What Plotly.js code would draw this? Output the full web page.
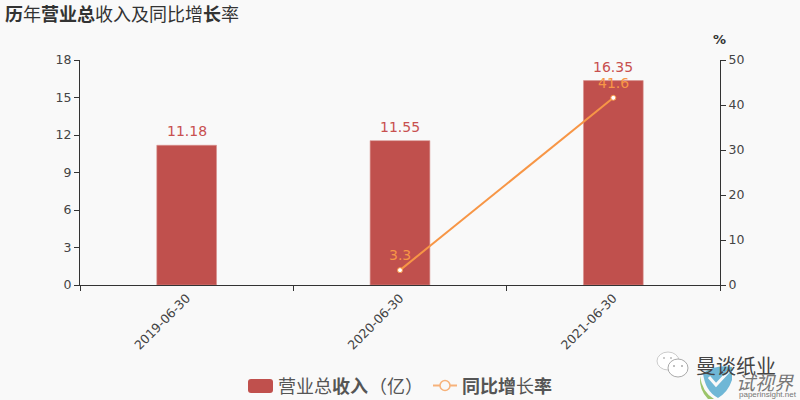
<!DOCTYPE html>
<html><head><meta charset="utf-8">
<script src="https://cdn.plot.ly/plotly-3.0.1.min.js"></script>
<style>html,body{margin:0;padding:0;background:#f9f9f9}#c{width:800px;height:400px}</style>
</head><body><div id="c"></div>
<script>
const categories = ['2019-06-30','2020-06-30','2021-06-30'];
const revenue = [11.18,11.55,16.35];
const growth = [null,3.3,41.6];
const revenueLabels = ['11.18','11.55','16.35'];
const growthLabels = ['','3.3','41.6'];
const revenueName = '营业总收入（亿）';
const growthName = '同比增长率';
const BASE = '"DejaVu Sans","Noto Sans CJK SC",sans-serif';
const CJK = '"Noto Sans CJK SC","DejaVu Sans",sans-serif';
const RED = '#c0504d', ORANGE = '#f79646';

const pxX = x => (x-80)/640, pxY = y => (285-y)/225;
const paperText = (x,y,text,size,color,extra={}) => Object.assign({
  xref:'paper',yref:'paper',x:pxX(x),y:pxY(y),xanchor:'left',yanchor:'middle',
  text,showarrow:false,font:{family:CJK,size,color}},extra);
const box = (x0,y0,x1,y1,o) => Object.assign({type:'rect',xref:'paper',yref:'paper',
  x0:pxX(x0),x1:pxX(x1),y0:pxY(y0),y1:pxY(y1)},o);
const circ = (x0,y0,x1,y1,o) => Object.assign(box(x0,y0,x1,y1,o),{type:'circle'});
const pathOf = (pts,o) => Object.assign({type:'path',xref:'paper',yref:'paper',
  path:pts.map(p=>typeof p==='string'?p:`${pxX(p[0])} ${pxY(p[1])}`).join(' ')},o);

const barLabels = categories.map((c,i)=>({x:c,y:revenue[i],xref:'x',yref:'y',text:revenueLabels[i],
  showarrow:false,yanchor:'bottom',yshift:4,font:{family:BASE,size:14,color:'#c8504f'}}));
const lineLabels = categories.map((c,i)=>growth[i]==null?null:({x:c,y:growth[i],xref:'x',yref:'y2',text:growthLabels[i],
  showarrow:false,yanchor:'bottom',yshift:5,font:{family:BASE,size:14,color:ORANGE}})).filter(Boolean);

const traces = [
 {type:'bar',x:categories,y:revenue,name:revenueName,width:0.28,
  marker:{color:RED,line:{color:'#d9928f',width:0.6}},hoverinfo:'x+y'},
 {type:'scatter',mode:'lines+markers',x:categories,y:growth,yaxis:'y2',name:growthName,
  line:{color:ORANGE,width:2},
  marker:{size:5,color:'#ffffff',line:{color:ORANGE,width:1}},cliponaxis:false}
];
const axisCommon = {showgrid:false,zeroline:false,showline:true,linecolor:'#333',linewidth:1,
  ticks:'outside',ticklen:5,tickcolor:'#333',tickwidth:1,
  tickfont:{family:BASE,size:12.5,color:'#444'}};
const layout = {
 width:800,height:400,paper_bgcolor:'#f9f9f9',plot_bgcolor:'#f9f9f9',
 margin:{l:80,r:80,t:60,b:115,pad:0},showlegend:false,
 xaxis:Object.assign({},axisCommon,{type:'category',range:[-0.5,2.5],tickson:'boundaries',tickangle:-45}),
 yaxis:Object.assign({},axisCommon,{range:[0,18],dtick:3,tick0:0}),
 yaxis2:Object.assign({},axisCommon,{overlaying:'y',side:'right',range:[0,50],dtick:10,tick0:0}),
 annotations:[...barLabels,...lineLabels,
  paperText(3,13,'<b>历</b>年<b>营业总</b>收入及同比增<b>长</b>率',18,'#333'),
  paperText(711,39,'<b>%</b>',13,'#333',{font:{family:BASE,size:13,color:'#333'}}),
  paperText(276,385,'营业总<b>收入</b>',18,'#555'),
  paperText(367,385,'（亿）',18,'#555'),
  paperText(460,385,'<b>同比增</b>长<b>率</b>',18,'#555'),
  paperText(694,365,'曼谈纸业',20,'#444'),
  paperText(734,381,'<i>试视界</i>',19,'#777'),
  paperText(737,394,'paperinsight.net',8,'#777',{font:{family:'"Liberation Sans",sans-serif',size:8,color:'#777'}})
 ],
 shapes:[
  pathOf(['M',[251,379],'L',[270,379],'Q',[273,379],[273,382],'L',[273,390],'Q',[273,393],[270,393],'L',[251,393],'Q',[248,393],[248,390],'L',[248,382],'Q',[248,379],[251,379],'Z'],{fillcolor:RED,line:{width:0}}),
  {type:'line',xref:'paper',yref:'paper',x0:pxX(433),x1:pxX(457),y0:pxY(385.5),y1:pxY(385.5),line:{color:'#f7b27a',width:2}},
  circ(440,380.5,450,390.5,{fillcolor:'#f9f9f9',line:{color:'#f7b27a',width:1.5}}),
  circ(657,352,679,370,{fillcolor:'#ffffff',line:{color:'#ccc',width:1}}),
  circ(668,359,688,377,{fillcolor:'#ffffff',line:{color:'#aaa',width:1}}),
  circ(663,357,665,359,{fillcolor:'#bbb',line:{width:0}}),
  circ(670,357,672,359,{fillcolor:'#bbb',line:{width:0}}),
  circ(673,365,675,367,{fillcolor:'#aaa',line:{width:0}}),
  circ(681,365,683,367,{fillcolor:'#aaa',line:{width:0}}),
  pathOf(['M',[703,373],'Q',[716,364],[732,367],'L',[732,380],'Q',[728,392],[718,398],'Q',[705,391],[703,373],'Z'],{fillcolor:'#6fb7d6',line:{width:0}}),
  pathOf(['M',[700,376],'Q',[702,392],[714,399],'L',[708,399],'Q',[699,390],[700,376],'Z'],{fillcolor:'#9cc46a',line:{width:0}}),
  pathOf(['M',[709,377],'L',[716,385],'L',[729,371]],{line:{color:'#f9f9f9',width:3}})
 ]
};
Plotly.newPlot('c',traces,layout,{staticPlot:true,displayModeBar:false});
</script></body></html>
